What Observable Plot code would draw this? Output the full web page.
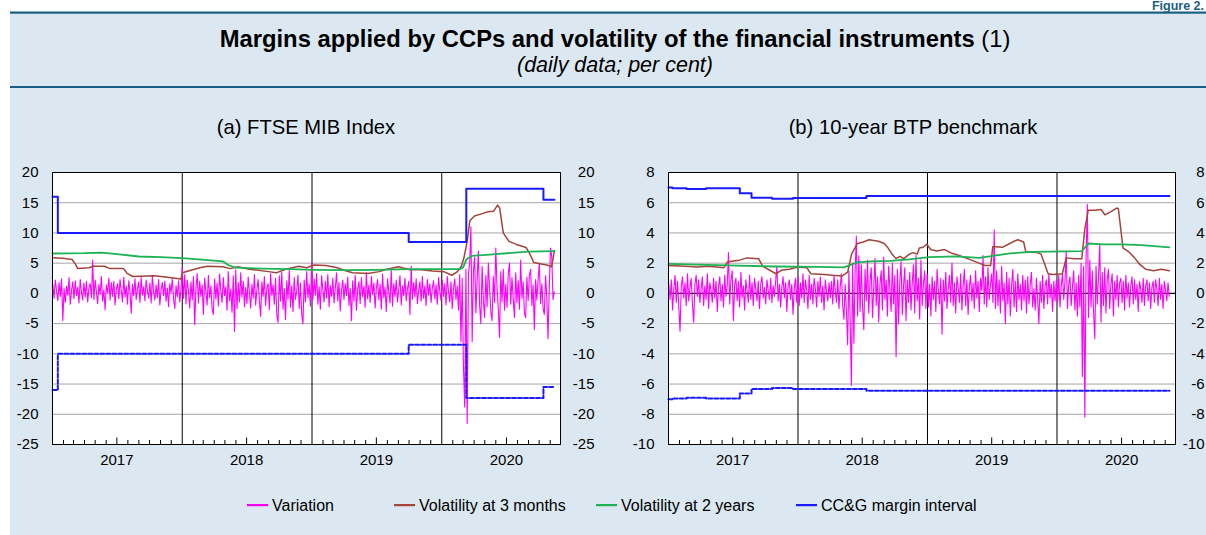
<!DOCTYPE html>
<html><head><meta charset="utf-8">
<script src="https://cdn.jsdelivr.net/npm/d3@7"></script>
<script src="https://cdn.jsdelivr.net/npm/@observablehq/plot@0.6"></script>
<style>
html,body{margin:0;padding:0;width:1206px;height:535px;overflow:hidden;background:#fff;font-family:"Liberation Sans",Arial,sans-serif;}
#deco{position:absolute;left:0;top:0;}
.panel{position:absolute;top:150px;width:600px;}
.panel svg{max-width:none !important;}
</style></head>
<body>
<svg id="deco" width="1206" height="535" font-family="Liberation Sans, Arial, sans-serif">
  <rect x="10" y="12" width="1200" height="530" fill="#dce8f1"/>
  <rect x="10" y="11.5" width="1200" height="2.2" fill="#1b5e84"/>
  <rect x="10" y="86" width="1200" height="2" fill="#1b5e84"/>
  <text x="1204" y="10" text-anchor="end" font-size="12.5" font-weight="bold" fill="#1b5e84">Figure 2.</text>
  <text x="615" y="47" text-anchor="middle" font-size="23.8" fill="#000"><tspan font-weight="bold">Margins applied by CCPs and volatility of the financial instruments</tspan> (1)</text>
  <text x="615" y="72" text-anchor="middle" font-size="21.5" font-style="italic" fill="#000">(daily data; per cent)</text>
  <text x="306" y="134" text-anchor="middle" font-size="20.2" fill="#000">(a) FTSE MIB Index</text>
  <text x="913" y="134" text-anchor="middle" font-size="20.2" fill="#000">(b) 10-year BTP benchmark</text>
  <g id="legend" font-size="16" fill="#000"></g>
</svg>
<div id="pa" class="panel" style="left:0px"></div>
<div id="pb" class="panel" style="left:606px"></div>
<script>
// ---------- shared ----------
const seriesNames = ["Variation", "Volatility at 3 months", "Volatility at 2 years", "CC&G margin interval"];
const seriesColors = ["#ff00ff", "#a3443a", "#1db355", "#1a1aff"];
const yearLabels = ["2017", "2018", "2019", "2020"];
const xStartStr = "2017-01-01";
const xEndStr = "2020-11-30";
// variation: one reading every 3.5 days starting here
const varStart = "2017-01-02";
const varStepHours = 84;

// ---------- (a) FTSE MIB ----------
const yTicksA = [20, 15, 10, 5, 0, -5, -10, -15, -20, -25];
const marginDatesA = ["2017-01-01", "2017-01-16", "2019-09-30", "2020-03-10", "2020-10-13", "2020-11-13"];
const marginValuesA = [16, 10, 8.5, 17.3, 15.5, 15.5];
const vol2DatesA = ["2017-01-01","2017-04-01","2017-05-20","2017-07-01","2017-09-01","2017-11-01","2018-01-01","2018-03-15","2018-04-25","2018-05-10","2018-05-30","2018-08-15","2018-11-01","2019-01-01","2019-04-01","2019-07-01","2019-10-01","2020-01-01","2020-02-20","2020-03-01","2020-03-10","2020-03-25","2020-05-15","2020-07-15","2020-09-01","2020-11-13"];
const vol2ValuesA = [6.6,6.65,6.75,6.5,6.1,6.0,5.85,5.5,5.3,4.7,4.25,4.1,4.0,3.9,3.85,3.9,4.0,4.0,4.0,4.3,5.6,6.2,6.4,6.7,6.9,7.0];
const vol3DatesA = ["2017-01-01","2017-01-29","2017-02-25","2017-03-07","2017-03-13","2017-04-14","2017-04-25","2017-05-27","2017-06-12","2017-07-20","2017-07-30","2017-08-15","2017-10-14","2017-11-15","2017-12-28","2018-01-02","2018-01-18","2018-02-19","2018-03-13","2018-04-25","2018-05-16","2018-06-07","2018-07-09","2018-09-01","2018-09-22","2018-10-19","2018-11-25","2018-12-17","2019-01-07","2019-02-09","2019-03-13","2019-04-03","2019-04-25","2019-06-07","2019-07-09","2019-07-30","2019-09-01","2019-10-03","2019-11-04","2019-12-06","2020-01-07","2020-01-29","2020-02-14","2020-02-25","2020-03-03","2020-03-12","2020-03-20","2020-04-02","2020-04-24","2020-05-10","2020-05-26","2020-06-06","2020-06-12","2020-06-22","2020-07-08","2020-07-29","2020-08-25","2020-09-05","2020-09-16","2020-10-02","2020-10-23","2020-11-05","2020-11-13"];
const vol3ValuesA = [5.9,5.8,5.6,4.8,4.1,4.25,4.5,4.5,4.1,4.1,3.3,2.8,2.9,2.7,2.4,3.4,3.7,4.25,4.5,4.4,4.1,4.4,4.0,3.6,3.4,4.0,4.5,4.25,4.7,4.6,4.25,3.8,3.4,3.3,3.6,4.0,4.4,3.9,3.9,3.7,3.6,3.0,3.6,4.5,5.8,8.4,12.0,12.8,13.2,13.5,13.6,14.6,14.1,10.0,8.6,8.1,7.6,6.5,5.1,4.9,4.7,4.4,7.1];
const variationA = [
 1.5,-0.8,2.2,0.4,-1.2,1.8,-0.5,2.4,-4.5,0.8,-1.5,1.2,-0.3,2.6,-1.8,0.5,1.9,-0.9,2.1,-0.4,1.0,-1.6,2.3,0.2,-1.1,1.7,
 -0.6,2.0,-1.4,0.9,1.6,-0.7,5.5,-1.0,2.2,0.3,-1.7,1.5,-0.2,2.8,-1.3,0.6,-2.7,1.4,0.1,2.5,-1.1,1.8,-0.5,2.0,-1.9,0.7,
 1.6,-0.9,2.3,0.4,-1.4,2.7,-0.6,1.2,-1.8,2.1,0.3,-3.3,1.5,-0.4,2.4,-1.0,0.8,1.9,-1.5,2.6,-0.3,1.1,-1.2,2.2,0.5,-0.8,
 1.7,-1.6,2.9,0.2,-1.1,1.4,-0.7,2.3,-1.9,0.6,1.8,-0.4,2.0,-1.3,0.9,-2.2,1.6,0.1,2.4,-0.9,-2.5,1.3,-0.6,2.1,-1.4,0.8,
 4.3,-0.8,3.1,-1.7,2.2,0.4,-2.4,1.9,-1.1,2.8,-5.2,0.9,3.3,-1.6,2.0,-0.5,1.4,-3.5,2.5,0.3,-1.9,3.0,-0.7,1.2,-2.6,-3.5,
 2.4,-0.9,1.7,-2.1,3.2,0.5,-1.5,2.6,-0.4,1.1,-2.8,3.6,-1.2,0.7,-3.1,2.9,-6.3,3.9,-2.5,1.8,-1.4,3.4,-0.6,2.0,-2.2,1.0,
 -1.7,2.7,0.2,-2.4,1.5,-0.8,3.1,-1.9,0.6,2.3,-1.2,-3.8,1.9,-0.5,2.8,-2.0,0.9,1.6,-2.7,3.3,-0.3,1.4,-1.8,2.5,-3.6,-4.8,
 2.9,-1.3,3.5,-2.6,0.8,-4.3,2.1,-0.9,3.8,-2.3,1.2,-3.0,2.6,-1.0,0.4,3.0,-2.5,1.7,-3.4,-5.0,2.2,-1.4,3.6,-0.7,1.5,-2.1,
 5.2,-1.1,2.4,-0.3,3.3,-1.8,1.1,-2.6,2.9,0.6,-1.4,2.0,-0.8,3.1,-2.2,1.3,-0.5,2.5,-1.6,0.9,3.4,-1.2,1.8,-2.9,0.5,2.2,
 -1.0,1.6,-0.4,2.7,-2.0,0.8,-4.5,2.1,-1.3,3.0,-2.8,0.7,1.9,-1.7,2.6,-0.6,1.2,-2.3,3.5,-0.9,1.4,-1.5,2.8,-0.2,1.7,-2.4,
 0.9,2.3,-1.1,1.5,-2.6,3.2,-0.7,1.0,-3.0,2.4,0.3,-1.6,3.8,-2.1,1.6,-0.5,2.2,-1.4,0.6,2.9,-1.9,1.3,-0.4,2.5,-1.2,0.8,
 2.0,-3.5,4.5,-1.0,1.8,-0.6,2.4,-1.7,0.5,1.9,-1.3,2.8,-0.8,1.2,-2.0,2.3,-0.3,1.6,-1.5,0.9,2.1,-0.9,1.4,-1.8,2.6,0.4,
 -1.2,2.2,-0.5,1.6,-1.9,2.8,0.3,-1.4,1.9,-2.5,0.8,2.4,-1.0,1.2,-2.8,3.1,-8.0,2.5,-12.0,-18.8,4.0,-21.5,3.2,5.0,11.0,-8.0,
 3.5,6.0,-3.2,2.4,7.0,-2.0,-5.0,4.5,-1.2,-4.0,3.0,-2.2,5.0,1.0,-3.0,-4.5,2.8,-1.5,7.5,0.8,-2.5,-7.3,3.6,-1.4,4.0,-2.8,
 1.5,-2.3,3.2,5.0,-1.8,2.6,-0.9,-4.0,3.4,-1.5,2.1,-2.6,5.5,-0.8,1.9,-3.3,-4.0,2.7,-1.2,3.0,4.0,-2.0,1.4,-6.0,2.3,-1.1,
 2.2,5.0,-1.7,1.6,-2.4,-3.5,2.9,-0.8,-7.5,1.2,7.5,6.0,-1.0,0.3
];

// ---------- (b) 10-year BTP ----------
const yTicksB = [8, 6, 4, 2, 0, -2, -4, -6, -8, -10];
const marginDatesB = ["2017-01-01","2017-01-12","2017-02-21","2017-04-17","2017-07-21","2017-08-23","2017-10-20","2017-12-18","2018-07-13","2020-11-13"];
const marginValuesB = [7.0,6.95,6.9,6.95,6.62,6.33,6.26,6.32,6.45,6.45];
const vol2DatesB = ["2017-01-01","2017-03-22","2017-06-17","2017-10-26","2018-02-23","2018-05-10","2018-05-26","2018-06-17","2018-07-25","2018-09-18","2018-11-11","2019-01-05","2019-03-22","2019-05-27","2019-07-09","2019-08-22","2019-10-26","2020-03-11","2020-03-29","2020-05-10","2020-07-03","2020-08-27","2020-11-13"];
const vol2ValuesB = [1.95,1.9,1.85,1.78,1.75,1.72,1.85,2.05,2.12,2.15,2.25,2.4,2.45,2.35,2.5,2.65,2.75,2.8,3.3,3.25,3.25,3.2,3.05];
const vol3DatesB = ["2017-01-01","2017-02-16","2017-03-22","2017-04-23","2017-06-06","2017-06-17","2017-07-20","2017-08-10","2017-09-12","2017-09-23","2017-10-31","2017-11-17","2017-12-08","2017-12-31","2018-01-26","2018-02-06","2018-03-16","2018-04-07","2018-05-05","2018-05-21","2018-06-01","2018-06-17","2018-07-04","2018-07-20","2018-08-16","2018-09-01","2018-09-12","2018-09-23","2018-10-04","2018-10-15","2018-10-26","2018-11-11","2018-11-22","2018-12-03","2018-12-09","2018-12-20","2018-12-30","2019-01-10","2019-01-27","2019-02-18","2019-03-11","2019-04-02","2019-04-24","2019-05-21","2019-06-12","2019-06-28","2019-07-04","2019-07-31","2019-09-02","2019-09-13","2019-09-29","2019-10-05","2019-11-06","2019-11-17","2019-12-07","2019-12-20","2020-01-16","2020-01-27","2020-02-18","2020-03-11","2020-03-19","2020-03-29","2020-04-18","2020-05-04","2020-05-15","2020-05-31","2020-06-17","2020-06-22","2020-07-05","2020-07-19","2020-08-05","2020-08-22","2020-09-07","2020-09-29","2020-10-21","2020-11-13"];
const vol3ValuesB = [1.85,1.8,1.75,1.8,1.7,2.1,2.2,2.35,2.3,1.8,1.3,1.55,1.6,1.75,1.7,1.3,1.25,1.2,1.15,1.4,2.6,3.3,3.4,3.55,3.45,3.3,3.0,2.6,2.3,2.45,2.3,2.6,2.7,2.6,3.0,3.05,3.25,2.9,2.8,2.9,2.65,2.5,2.3,2.05,1.85,1.85,3.1,3.05,3.45,3.55,3.4,2.75,2.7,2.6,1.3,1.25,1.3,2.35,2.3,2.3,4.2,5.5,5.5,5.55,5.2,5.4,5.65,5.6,3.0,2.8,2.4,1.9,1.6,1.5,1.6,1.5];
const variationB = [
 0.6,-0.4,0.9,-1.1,0.3,1.2,-0.6,0.8,-0.9,-2.5,0.5,1.1,-0.3,0.7,-0.8,1.3,-0.5,0.4,1.0,-0.7,-1.9,0.6,1.2,-0.2,0.9,-0.6,
 0.3,1.1,-0.8,0.5,-0.4,1.3,-1.0,0.7,0.2,-0.6,1.0,-0.3,0.8,-1.2,0.4,1.1,-0.5,0.6,-0.9,1.2,-0.2,0.5,2.7,-0.7,0.9,1.5,
 -1.8,0.6,1.0,-0.5,0.8,-0.9,1.4,-0.3,0.5,-1.1,0.9,0.2,-0.6,1.2,-0.4,0.7,-0.8,1.0,0.3,-0.5,0.8,-1.0,0.6,1.1,-0.3,0.4,
 -0.7,0.9,0.2,-0.4,1.0,-0.6,0.5,-0.2,0.8,1.8,-0.5,0.6,-0.9,0.4,1.1,-0.3,0.7,-1.2,0.5,0.9,-0.4,0.6,-1.4,0.3,1.0,-0.6,
 1.1,-0.8,0.7,-0.3,1.3,-0.6,0.9,0.2,-1.0,1.2,-0.4,0.6,-0.7,1.0,0.3,-0.9,0.8,-0.2,1.1,-0.6,0.5,-1.1,0.9,0.1,-0.5,0.7,
 -0.3,0.8,-0.7,1.2,0.2,-0.6,0.9,-1.0,0.5,1.3,-0.8,-1.7,0.6,-1.2,-3.4,1.5,-1.7,-6.1,2.0,-3.3,1.5,3.8,-1.5,2.5,-1.2,1.9,
 -0.9,-2.4,1.6,-0.5,2.2,-1.3,0.8,1.7,-1.6,0.4,2.3,-0.8,1.1,-1.9,0.6,1.5,-1.1,2.4,-0.4,0.9,-1.5,1.8,0.3,-1.2,2.0,-0.7,
 1.2,-4.2,1.6,-2.0,0.8,2.1,-1.4,0.5,1.7,-1.8,0.9,-0.6,1.4,-1.1,0.7,1.9,-1.3,2.5,-0.5,1.0,-1.7,2.2,-0.8,0.6,1.5,-1.0,
 1.3,-0.9,0.6,-1.5,1.1,-0.4,0.8,-1.2,1.6,0.2,-0.7,1.0,-2.7,0.9,-0.5,1.4,-1.0,0.3,1.2,-0.6,2.0,-0.8,0.7,-1.3,1.1,0.4,
 -0.6,1.3,-1.1,0.5,1.6,-0.8,0.9,-1.4,0.4,1.2,-0.5,0.7,-1.0,1.5,-0.3,0.8,-1.2,1.0,0.2,2.5,-0.7,1.1,-0.9,1.7,-0.4,0.6,
 1.3,-0.6,4.2,-1.0,1.5,-0.8,0.9,-1.3,1.8,-0.5,0.7,-2.0,1.4,-0.7,1.0,-1.5,0.5,1.6,-0.9,0.8,-1.2,1.3,-0.4,0.6,-1.1,1.2,
 -0.5,0.9,-1.3,1.1,-0.7,0.6,1.4,-0.9,0.3,-1.1,1.0,-0.4,-2.0,0.8,-0.6,1.2,-1.0,0.5,0.9,-0.7,1.3,-0.3,0.6,-1.2,0.8,-0.5,
 0.9,-0.6,1.2,-0.9,0.5,1.3,-0.4,0.8,2.8,-1.0,0.6,1.1,-0.8,0.4,1.5,-1.1,0.7,-1.5,1.2,-0.9,2.0,-5.5,1.8,-8.2,2.4,5.9,
 -1.6,2.2,-0.9,1.5,-1.2,-3.0,1.8,-0.7,1.1,3.2,-1.9,1.4,-0.8,1.7,-1.3,0.9,1.6,-1.0,0.6,1.3,-1.5,0.8,-0.4,1.2,-0.9,0.7,
 1.0,-0.6,0.8,-1.1,1.2,-0.3,0.7,-0.9,0.5,1.1,-0.7,0.9,-0.4,0.6,-1.2,0.8,0.3,-0.6,1.0,-0.8,0.5,0.9,-0.5,0.7,-1.0,0.4,
 0.8,-0.6,0.9,0.3,-0.8,1.0,-0.4,0.6,-1.0,0.8,0.2,-0.5,0.7,-0.2
];

// ---------- build ----------
const parse = s => new Date(s + "T00:00:00Z");
const pairs = (ds, vs) => ds.map((d, i) => ({date: parse(d), value: vs[i]}));
const varSeries = vs => vs.map((v, i) => ({date: d3.utcHour.offset(parse(varStart), i * varStepHours), value: v}));

function panel(opts) {
  const {variation, vol3, vol2, margin, yTicks, zeroBlack, width, marginLeft, marginRight, rightPad} = opts;
  const height = 330, marginTop = 22, marginBottom = 36;
  const yMin = d3.min(yTicks), yMax = d3.max(yTicks);
  const perPx = (yMax - yMin) / (height - marginTop - marginBottom);
  const xDomain = [parse(xStartStr), parse(xEndStr)];
  const months = d3.utcMonth.range(parse(xStartStr), parse(xEndStr)).filter(d => d.getUTCMonth() !== 0);
  const yearStarts = d3.utcYear.range(d3.utcYear.offset(parse(xStartStr), 1), parse(xEndStr));
  const julys = yearLabels.map(y => parse(y + "-07-01"));
  const monthTicks = months.map(d => ({date: d, top: yMin + (d.getUTCMonth() === 6 ? 6.5 : 4) * perPx}));
  return Plot.plot({
    width, height, marginTop, marginBottom, marginLeft, marginRight,
    style: {background: "transparent", fontFamily: "Liberation Sans, Arial, sans-serif", fontSize: "15px", color: "#000", overflow: "visible", maxWidth: "none"},
    x: {type: "utc", domain: xDomain},
    y: {domain: [yMin, yMax]},
    marks: [
      Plot.frame({fill: "white", stroke: "none"}),
      Plot.ruleY(yTicks, {stroke: "#a6a6a6", strokeWidth: 1}),
      zeroBlack ? Plot.ruleY([0], {stroke: "#000", strokeWidth: 1.3}) : null,
      Plot.ruleX(yearStarts, {stroke: "#000", strokeWidth: 1}),
      Plot.ruleX(monthTicks, {x: "date", y1: yMin, y2: "top", stroke: "#000", strokeWidth: 1}),
      Plot.line(variation, {x: "date", y: "value", stroke: seriesColors[0], strokeWidth: 1.1}),
      Plot.line(vol3, {x: "date", y: "value", stroke: seriesColors[1], strokeWidth: 1.5}),
      Plot.line(vol2, {x: "date", y: "value", stroke: seriesColors[2], strokeWidth: 1.8}),
      Plot.line(margin, {x: "date", y: "value", curve: "step-after", stroke: seriesColors[3], strokeWidth: 2}),
      Plot.line(margin, {x: "date", y: d => -d.value, curve: "step-after", stroke: seriesColors[3], strokeWidth: 2, strokeDasharray: "4,2"}),
      Plot.frame({stroke: "#000", strokeWidth: 1}),
      Plot.axisY({anchor: "left", ticks: yTicks, tickSize: 0, tickPadding: 14, tickFormat: d => String(d)}),
      Plot.axisY({anchor: "right", ticks: yTicks, tickSize: 0, tickPadding: rightPad, textAnchor: "end", tickFormat: d => String(d)}),
      Plot.axisX({anchor: "bottom", ticks: julys, tickSize: 0, tickPadding: 10, tickFormat: d => String(d.getUTCFullYear())})
    ]
  });
}

document.getElementById("pa").append(panel({
  variation: varSeries(variationA), vol3: pairs(vol3DatesA, vol3ValuesA), vol2: pairs(vol2DatesA, vol2ValuesA),
  margin: pairs(marginDatesA, marginValuesA), yTicks: yTicksA, zeroBlack: false,
  width: 600, marginLeft: 52, marginRight: 40, rightPad: 34
}));
document.getElementById("pb").append(panel({
  variation: varSeries(variationB), vol3: pairs(vol3DatesB, vol3ValuesB), vol2: pairs(vol2DatesB, vol2ValuesB),
  margin: pairs(marginDatesB, marginValuesB), yTicks: yTicksB, zeroBlack: true,
  width: 600, marginLeft: 62, marginRight: 31, rightPad: 29
}));

// legend
const legendX = [247, 394, 596, 796];
const lg = d3.select("#legend");
seriesNames.forEach((name, i) => {
  lg.append("rect").attr("x", legendX[i]).attr("y", 504).attr("width", 21).attr("height", 2.2).attr("fill", seriesColors[i]);
  lg.append("text").attr("x", legendX[i] + 25).attr("y", 510.5).text(name);
});
</script>
</body></html>
